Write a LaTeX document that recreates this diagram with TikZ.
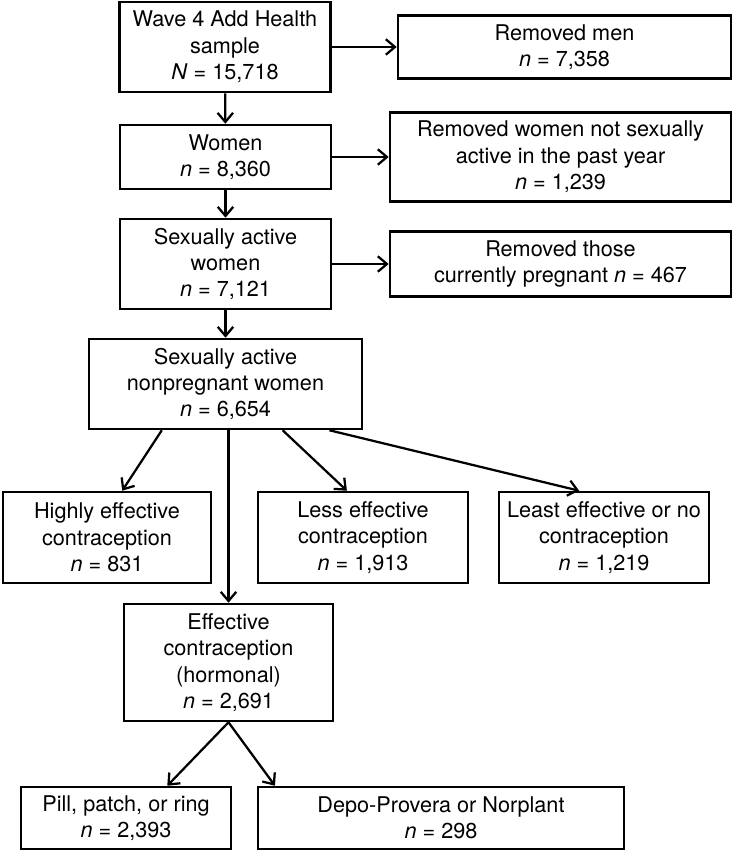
\documentclass[tikz,border=0pt]{standalone}
\usepackage{fontspec}
\setmainfont{TeX Gyre Heros}
\usetikzlibrary{arrows.meta}

\begin{document}
\begin{tikzpicture}[
    x=0.025cm, y=-0.025cm,
    ->, >={Straight Barb[length=6.5pt, width=11pt]},
    box/.style={draw, rectangle, line width=1.8pt, align=center, inner sep=0pt,
        font=\fontsize{15.4}{18.8}\selectfont},
    every edge/.style={draw, line width=1.6pt}
]

    \useasboundingbox (0,0) rectangle (734,853);

    \node[box, minimum width=5.275cm, minimum height=2.25cm]  (B0)  at (225,47)    {Wave 4 Add Health\\sample\\\textit{N} = 15,718};
    \node[box, minimum width=8.325cm, minimum height=1.575cm] (B1)  at (564.5,47)  {Removed men\\\textit{n} = 7,358};
    \node[box, minimum width=5.275cm, minimum height=1.6cm]   (B2)  at (225.5,157) {Women\\\textit{n} = 8,360};
    \node[box, minimum width=8.525cm, minimum height=2.225cm] (B3)  at (560.5,157) {Removed women not sexually\\active in the past year\\\textit{n} = 1,239};
    \node[box, minimum width=5.275cm, minimum height=2.25cm]  (B4)  at (225.5,264) {Sexually active\\women\\\textit{n} = 7,121};
    \node[box, minimum width=8.525cm, minimum height=1.625cm] (B5)  at (560.5,264) {Removed those\\currently pregnant \textit{n} = 467};
    \node[box, minimum width=6.825cm, minimum height=2.25cm]  (B6)  at (225.5,384) {Sexually active\\nonpregnant women\\\textit{n} = 6,654};
    \node[box, minimum width=5.2cm,   minimum height=2.275cm] (B7)  at (107,537.5) {Highly effective\\contraception\\\textit{n} = 831};
    \node[box, minimum width=5.25cm,  minimum height=2.275cm] (B8)  at (363,537.5) {Less effective\\contraception\\\textit{n} = 1,913};
    \node[box, minimum width=5.25cm,  minimum height=2.275cm] (B9)  at (604,537.5) {Least effective or no\\contraception\\\textit{n} = 1,219};
    \node[box, minimum width=5.225cm, minimum height=2.925cm] (B10) at (228.5,662.5) {Effective\\contraception\\(hormonal)\\\textit{n} = 2,691};
    \node[box, minimum width=5.25cm,  minimum height=1.55cm]  (B11) at (126,818)   {Pill, patch, or ring\\\textit{n} = 2,393};
    \node[box, minimum width=9.15cm,  minimum height=1.55cm]  (B12) at (441,818)   {Depo-Provera or Norplant\\\textit{n} = 298};

    \path   (B0) edge (B1)
            (B0) edge (B2)
            (B2) edge (B3)
            (B2) edge (B4)
            (B4) edge (B5)
            (B4) edge (B6)
            (B6.216) edge (B7.72)
            (B6.321.5) edge (B8.109.4)
            (B6.336.7) edge (B9.118.8)
            (B10 |- B6.south) edge (B10)
            (B10.south) edge (B11.38.5)
            (B10.south) edge (B12.169.3);

\end{tikzpicture}
\end{document}
